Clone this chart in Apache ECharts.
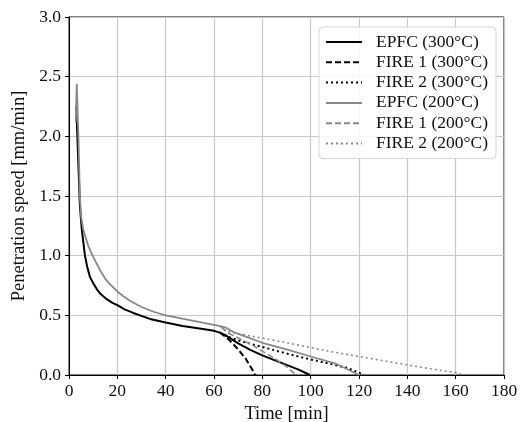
<!DOCTYPE html>
<html>
<head>
<meta charset="utf-8">
<script src="https://cdn.jsdelivr.net/npm/echarts@6/dist/echarts.min.js"></script>
<style>
    html, body { margin: 0; padding: 0; background: #fff; }
    #main { width: 521px; height: 422px; }
</style>
</head>
<body>
<div id="main"></div>
<script>
// time [min], penetration speed [mm/min]
var epfc300 = [[3.0, 2.25], [4.0, 1.70], [4.5, 1.42], [5.3, 1.22], [6.0, 1.1], [6.6, 1.0], [7.5, 0.91],
    [8.7, 0.82], [10, 0.77], [11.5, 0.72], [13, 0.68], [15.6, 0.635], [18, 0.605], [20, 0.585], [23, 0.55],
    [26.6, 0.52], [33.5, 0.47], [40, 0.44], [47, 0.41], [54, 0.39], [60, 0.37],
    [62.5, 0.355], [65, 0.33], [70, 0.265], [75, 0.21], [80, 0.165], [85, 0.125], [90, 0.085], [95, 0.045], [99.7, 0]];
var fire1_300 = [[62.5, 0.355], [66, 0.30], [70, 0.215], [73, 0.14], [76, 0.04], [77, 0]];
var fire2_300 = [[62.5, 0.355], [66, 0.32], [70, 0.29], [80, 0.235], [90, 0.18], [100, 0.13], [110, 0.085],
    [115, 0.06], [120, 0.02], [122, 0]];
var epfc200 = [[2.8, 2.12], [3.2, 2.44], [3.9, 2.0], [4.5, 1.5], [5.0, 1.33], [5.9, 1.22], [8.0, 1.08], [10, 0.99],
    [12.8, 0.88], [14.9, 0.81], [17, 0.76], [20, 0.70], [22.5, 0.66], [25, 0.625], [30, 0.57], [35, 0.53],
    [40, 0.50], [50, 0.46], [60, 0.42],
    [62.5, 0.41], [64.6, 0.40], [68, 0.36], [73.5, 0.32], [80, 0.27], [90, 0.215], [100, 0.155], [110, 0.098],
    [115, 0.05], [120, 0]];
var fire1_200 = [[63, 0.40], [66, 0.35], [70, 0.31], [75, 0.26], [80, 0.20], [85, 0.14], [90, 0.07], [94, 0]];
var fire2_200 = [[62.5, 0.41], [65, 0.37], [70, 0.345], [80, 0.31], [90, 0.27], [100, 0.23], [110, 0.19],
    [120, 0.155], [130, 0.12], [140, 0.085], [150, 0.05], [160, 0.02], [163, 0]];
var names = ['EPFC (300°C)', 'FIRE 1 (300°C)', 'FIRE 2 (300°C)', 'EPFC (200°C)', 'FIRE 1 (200°C)', 'FIRE 2 (200°C)'];

var font = "'Liberation Serif', 'Times New Roman', serif";
var myChart = echarts.init(document.getElementById('main'));

function line(name, data, color, width, type) {
    return {
        name: name,
        type: 'line',
        data: data,
        symbol: 'none',
        animation: false,
        lineStyle: { color: color, width: width, type: type },
        itemStyle: { color: color }
    };
}

var option = {
    backgroundColor: '#fff',
    textStyle: { fontFamily: font },
    grid: {
        left: 69, right: 17, top: 17, bottom: 47,
        containLabel: false, outerBoundsMode: 'none',
        show: true, borderColor: '#000', borderWidth: 1
    },
    legend: {
        orient: 'vertical',
        left: 319, top: 27,
        itemWidth: 36, itemHeight: 14, itemGap: 2.3,
        padding: [6, 8, 6, 6],
        backgroundColor: 'rgba(255,255,255,0.85)',
        borderColor: '#d6d6d6', borderWidth: 1, borderRadius: 4,
        itemStyle: { opacity: 0 },
        textStyle: { fontFamily: font, fontSize: 17.5, color: '#111', lineHeight: 18, padding: [0, 0, 0, 9] },
        data: names
    },
    xAxis: {
        type: 'value', min: 0, max: 180, interval: 20,
        name: 'Time [min]', nameLocation: 'middle', nameGap: 26,
        nameTextStyle: { fontFamily: font, fontSize: 18.5, color: '#111' },
        axisLine: { lineStyle: { color: '#000', width: 1 } },
        axisTick: { show: true, length: 4, lineStyle: { color: '#000' } },
        axisLabel: { fontFamily: font, fontSize: 17.5, color: '#111', margin: 7 },
        splitLine: { lineStyle: { color: '#c8c8c8', width: 1.2 } }
    },
    yAxis: {
        type: 'value', min: 0, max: 3, interval: 0.5,
        name: 'Penetration speed [mm/min]', nameLocation: 'middle', nameGap: 40,
        nameTextStyle: { fontFamily: font, fontSize: 18.5, color: '#111' },
        axisLine: { show: true, lineStyle: { color: '#000', width: 1 } },
        axisTick: { show: true, length: 4, lineStyle: { color: '#000' } },
        axisLabel: { fontFamily: font, fontSize: 17.5, color: '#111', margin: 8,
            formatter: function (v) { return v.toFixed(1); } },
        splitLine: { lineStyle: { color: '#c8c8c8', width: 1.2 } }
    },
    series: [
        line(names[0], epfc300, '#000', 2, 'solid'),
        line(names[1], fire1_300, '#000', 2, [6, 3]),
        line(names[2], fire2_300, '#000', 2, [2, 3]),
        line(names[3], epfc200, '#888', 1.8, 'solid'),
        line(names[4], fire1_200, '#888', 1.6, [6, 3]),
        line(names[5], fire2_200, '#888', 1.6, [2, 3])
    ]
};

option && myChart.setOption(option);
</script>
</body>
</html>
